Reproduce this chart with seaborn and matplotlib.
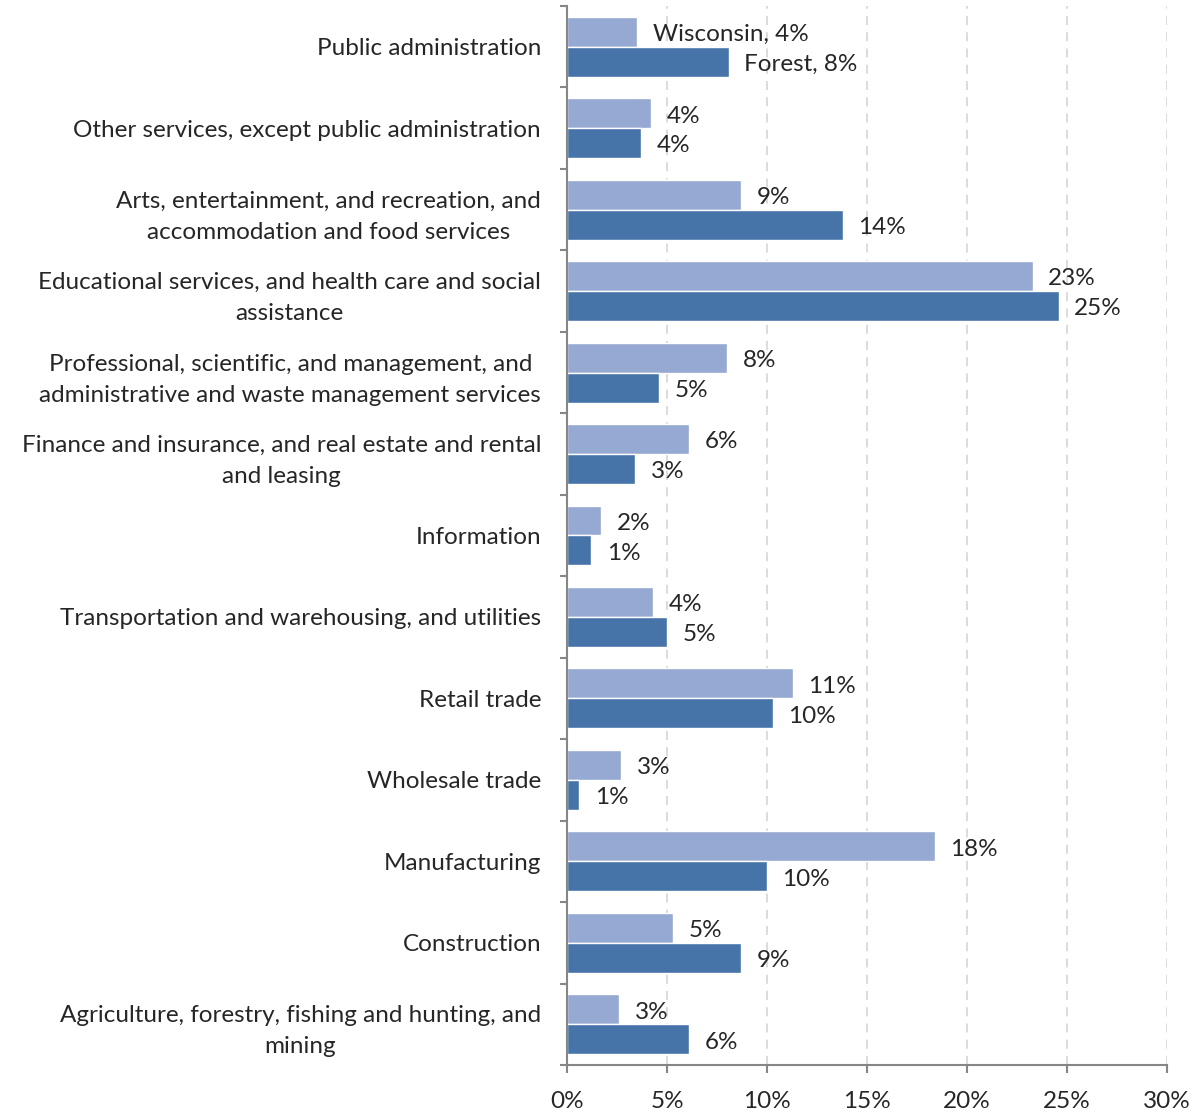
"""
Industry share of employment: Wisconsin vs Forest, horizontal bars.
"""
import matplotlib
matplotlib.use("Agg")
import matplotlib.pyplot as plt
import numpy as np
import pandas as pd
import seaborn as sns
from matplotlib.ticker import FixedLocator, FuncFormatter

INDUSTRIES = [
    "Public administration",
    "Other services, except public administration",
    "Arts, entertainment, and recreation, and\naccommodation and food services",
    "Educational services, and health care and social\nassistance",
    "Professional, scientific, and management, and\nadministrative and waste management services",
    "Finance and insurance, and real estate and rental\nand leasing",
    "Information",
    "Transportation and warehousing, and utilities",
    "Retail trade",
    "Wholesale trade",
    "Manufacturing",
    "Construction",
    "Agriculture, forestry, fishing and hunting, and\nmining",
]
WISCONSIN = [3.5, 4.2, 8.7, 23.3, 8.0, 6.1, 1.7, 4.3, 11.3, 2.7, 18.4, 5.3, 2.6]
FOREST = [8.1, 3.7, 13.8, 24.6, 4.6, 3.4, 1.2, 5.0, 10.3, 0.6, 10.0, 8.7, 6.1]
AREAS = ["Wisconsin", "Forest"]
X_TICKS = [0, 5, 10, 15, 20, 25, 30]

LIGHT = "#95A9D2"
DARK = "#4674A8"
AXIS_GRAY = "#868686"
FONT_SIZE = 17.5


def main():
    sns.set_theme(style="white")
    plt.rcParams["font.family"] = ["Lato", "DejaVu Sans"]

    df = pd.DataFrame({
        "industry": INDUSTRIES * 2,
        "share": WISCONSIN + FOREST,
        "area": [AREAS[0]] * len(INDUSTRIES) + [AREAS[1]] * len(INDUSTRIES),
    })

    fig = plt.figure(figsize=(11.99, 11.14), dpi=100)
    ax = fig.add_axes([0.4733, 0.044, 0.4996, 0.9506])

    sns.barplot(
        data=df, x="share", y="industry", hue="area", hue_order=AREAS,
        palette=[LIGHT, DARK], saturation=1, width=0.735, orient="h",
        legend=False, ax=ax,
    )

    ax.set_xlim(0, 30)
    ax.set_ylim(len(INDUSTRIES) - 0.5, -0.5)
    ax.set_xlabel("")
    ax.set_ylabel("")

    # value labels, first category carries the series name
    for area, values, container in zip(AREAS, [WISCONSIN, FOREST], ax.containers):
        labels = [f"{round(v):.0f}%" for v in values]
        labels[0] = f"{area}, {labels[0]}"
        texts = ax.bar_label(container, labels=labels, padding=11, fontsize=FONT_SIZE)
        for t in texts:
            t.xyann = (11, -2)

    ax.xaxis.set_major_locator(FixedLocator(X_TICKS))
    ax.xaxis.set_major_formatter(FuncFormatter(lambda v, _: f"{v:.0f}%"))
    ax.grid(axis="x", color="#D9D9D9", linestyle=(0, (5, 4)), linewidth=1.3)
    ax.set_axisbelow(True)

    for side in ["top", "right"]:
        ax.spines[side].set_visible(False)
    for side in ["left", "bottom"]:
        ax.spines[side].set_color(AXIS_GRAY)
        ax.spines[side].set_linewidth(1.5)

    # excel style: y ticks between categories
    ax.yaxis.set_minor_locator(FixedLocator(np.arange(-0.5, len(INDUSTRIES), 1.0)))
    ax.tick_params(axis="y", which="major", length=0, pad=19, labelsize=FONT_SIZE)
    ax.tick_params(axis="y", which="minor", length=5, width=1.5, color=AXIS_GRAY, direction="out", left=True)
    ax.tick_params(axis="x", which="major", length=5.8, width=1.5, color=AXIS_GRAY, direction="out",
                   bottom=True, labelsize=FONT_SIZE, pad=13)
    for t in ax.get_yticklabels():
        t.set_multialignment("center")
        t.set_linespacing(1.6)

    fig.savefig("out.png", dpi=100)
    plt.close(fig)


if __name__ == "__main__":
    main()
